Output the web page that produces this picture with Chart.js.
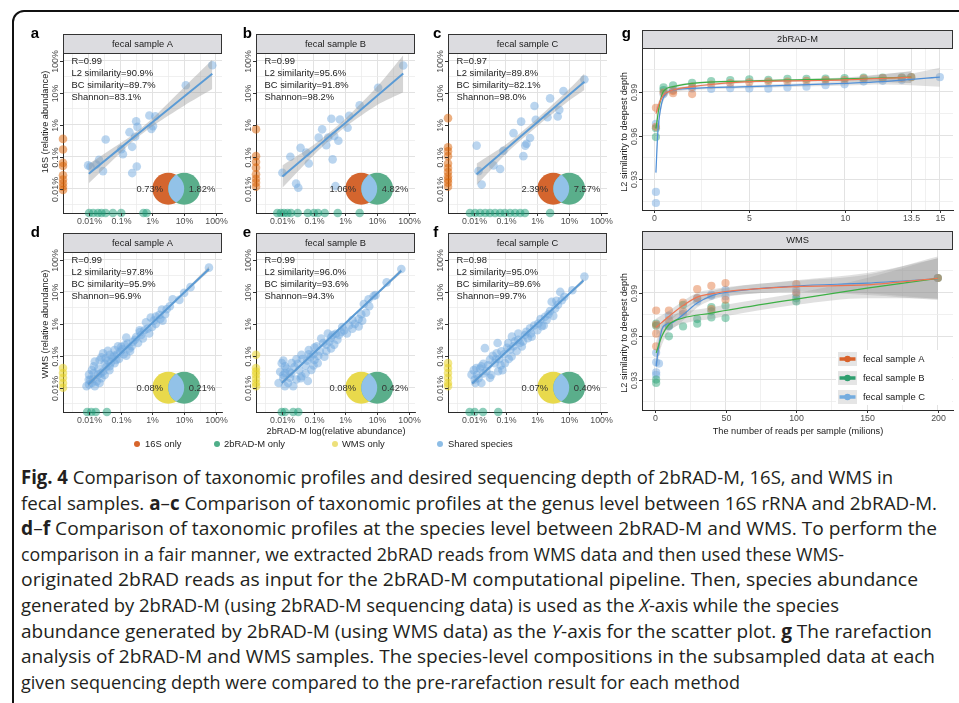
<!DOCTYPE html>
<html>
<head>
<meta charset="utf-8">
<title>Fig. 4</title>
<script src="https://cdn.jsdelivr.net/npm/chart.js@4.4.1/dist/chart.umd.min.js"></script>
<style>
  html, body { margin:0; padding:0; background:#fff; }
  body { width:959px; height:703px; position:relative; overflow:hidden; font-family:"Liberation Sans", Arial, sans-serif; }
  #frame { position:absolute; left:12px; top:10px; width:1010px; height:760px; border:2px solid #111; border-top-left-radius:12px; box-sizing:border-box; }
  canvas { position:absolute; }
  .legtxt { position:absolute; font-size:9.4px; color:#222; white-space:nowrap; line-height:12px; }
  .dot { position:absolute; width:6px; height:6px; border-radius:50%; }
  .cap { position:absolute; left:21px; font-family:"Open Sans","Lato",sans-serif; font-size:19px; color:#231f20; white-space:nowrap; transform-origin:0 0; line-height:22px; }
  .cap b { font-weight:700; }
</style>
</head>
<body>
<div id="frame"></div>

<script>
// ================= DATA =================
// Scatter panels: values are log10(relative abundance, %), i.e. -2 = 0.01%, 2 = 100%
const absTicks = [-2, -1, 0, 1, 2];
const absTickLabels = ['0.01%', '0.1%', '1%', '10%', '100%'];
const absGrid = [-2.5, -2, -1.5, -1, -0.5, 0, 0.5, 1, 1.5, 2];

// panel a (16S vs 2bRAD-M, fecal sample A, genus level)
const a_sharedX = [1.885,1.052,-0.094,0.094,-0.031,-0.51,-0.469,-0.719,-0.542,-1.469,-0.635,-0.979,-0.927,-1.677,-1.948,-1.76,-1.552,-0.49,-0.635,-2.02,0.02];
const a_sharedY = [1.865,1.24,0.292,0.271,-0.125,0.115,-0.063,-0.229,-0.375,-0.458,-0.688,-0.76,-0.917,-1.094,-1.302,-1.24,-1.448,-1.302,-1.51,-1.27,-0.04];
const a_onlyY = [-0.44,-0.77,-1.19,-1.29,-1.58,-1.71,-1.83,-1.94,-2.04];
const a_onlyX = [-1.99,-1.86,-1.71,-1.6,-1.47,-1.24,-0.98,-0.28,-0.18];
const a_fitX = [-2.0,-1.0,-0.5,0,1.0,1.885];
const a_fitY = [-1.53,-0.72,-0.32,0.08,0.89,1.6];
const a_fitLo = [-1.83,-0.87,-0.42,-0.04,0.6,1.12];
const a_fitHi = [-1.23,-0.57,-0.22,0.2,1.18,2.05];

// panel b
const b_sharedX = [1.82,1.03,0.45,0.12,-0.17,-0.44,-0.73,0.07,-0.84,-0.54,-0.35,-0.6,-0.22,-1.41,-1.23,-1.73,-1.15,-0.40,-1.98,-1.55,-1.48,-0.31];
const b_sharedY = [1.86,1.16,0.61,0.28,0.17,0.19,-0.14,-0.09,-0.40,-0.40,-0.35,-0.64,-0.5,-0.72,-0.87,-1.0,-1.21,-1.08,-1.5,-1.84,-1.97,-1.92];
const b_onlyY = [-0.14,-0.98,-1.16,-1.34,-1.55,-1.69,-1.81,-1.94];
const b_onlyX = [-2.14,-2.03,-1.93,-1.82,-1.71,-1.5,-1.18,-0.99,-0.86,-0.65,-0.24,0.45];
const b_fitX = [-1.98,-1.0,-0.5,0,1.0,1.82];
const b_fitY = [-1.62,-0.79,-0.36,0.06,0.91,1.61];
const b_fitLo = [-1.97,-0.95,-0.48,-0.07,0.62,1.02];
const b_fitHi = [-1.27,-0.63,-0.24,0.19,1.2,2.18];

// panel c
const c_sharedX = [1.48,0.82,0.40,0.69,0.64,0.32,-0.09,-0.05,-0.51,-0.75,-0.23,-0.34,-0.38,-1.07,-0.44,-1.91,-1.38,-1.17,-1.85,-1.75];
const c_sharedY = [1.42,1.06,0.83,0.47,0.26,0.24,0.59,0.16,0.10,-0.26,-0.41,-0.59,-0.65,-0.81,-0.98,-0.65,-1.27,-1.38,-1.45,-1.87];
const c_onlyY = [0.21,-0.70,-0.83,-0.98,-1.21,-1.35,-1.48,-1.61,-1.71,-1.81,-1.94];
const c_onlyX = [-2.12,-1.96,-1.8,-1.64,-1.49,-1.33,-1.17,-1.02,-0.86,-0.70,-0.54,-0.39,0.40];
const c_fitX = [-1.91,-1.0,-0.5,0,1.0,1.48];
const c_fitY = [-1.55,-0.77,-0.34,0.08,0.94,1.35];
const c_fitLo = [-1.89,-0.92,-0.46,-0.04,0.76,1.09];
const c_fitHi = [-1.21,-0.62,-0.22,0.2,1.12,1.61];

// panel d (2bRAD-M vs WMS, species level)
const d_sharedX = [1.78,1.0,0.64,0.45,0.11,-0.2,-0.15,-0.39,-0.51,-0.82,-0.61,-0.87,-1.08,-1.19,-1.4,-1.01,-1.55,-1.34,-1.81,-1.66,-1.47,-1.84,-1.99,-1.99,-1.81,-1.66,-1.86,-1.71,-1.55,-1.34,-1.14,-0.72,-0.3,-0.01,0.11,0.32,-0.82,-1.19,-2.07,-1.5,0.22,-0.05,-1.9,-1.6,-1.25,
  -1.95,-1.9,-1.75,-1.7,-1.62,-1.45,-1.4,-1.3,-1.2,-1.1,-1.05,-0.95,-0.9,-0.78,-0.7,-0.65,-0.55,-0.45,-0.35,-0.25,-0.1,0.05,0.25,0.4,0.55,0.85,1.2,-1.6,-1.35,-1.85,-2.0,-1.5,-0.98,-0.4,0.3];
const d_sharedY = [1.76,0.97,0.77,0.46,0.23,0.05,-0.15,-0.26,-0.41,-0.43,-0.56,-0.67,-0.7,-0.82,-0.84,-0.87,-0.92,-0.97,-1.18,-1.13,-1.08,-1.33,-1.59,-1.9,-1.95,-1.85,-1.72,-1.59,-1.49,-1.33,-1.13,-0.77,-0.46,-0.1,0.0,0.1,-1.0,-1.23,-1.95,-1.25,0.28,0.2,-1.45,-1.7,-1.05,
  -1.75,-1.85,-1.8,-1.4,-1.55,-1.35,-1.15,-1.2,-1.0,-0.95,-1.1,-0.8,-0.95,-0.62,-0.85,-0.7,-0.5,-0.6,-0.35,-0.2,-0.3,0.1,0.15,0.3,0.55,0.75,1.15,-1.05,-1.45,-1.55,-1.75,-1.6,-0.72,-0.2,0.45];
const d_onlyY = [-1.38,-1.54,-1.69,-1.85,-2.0];
const d_onlyX = [-2.05,-1.92,-1.78,-1.43];
const d_fitX = [-2.02,-1.0,0,1.0,1.78];
const d_fitY = [-1.9,-0.93,0.03,0.98,1.72];
const d_fitLo = [-1.97,-0.96,0.0,0.94,1.64];
const d_fitHi = [-1.83,-0.9,0.06,1.02,1.8];

// panel e
const e_sharedX = [1.76,0.89,0.73,0.58,0.53,0.22,-0.14,-0.3,-0.45,-0.76,-0.97,-1.15,-1.38,-1.54,-1.69,-1.9,-2.0,-1.9,-1.74,-1.54,-1.38,-1.18,-1.9,-1.64,-2.1,-1.07,-0.87,-0.66,-0.45,-0.97,-0.04,0.22,0.42,0.42,0.12,-0.25,-0.6,-0.8,-1.25,-1.45,-1.75,-1.95,0.65,-0.55,-1.1,
  -1.95,-1.85,-1.8,-1.7,-1.6,-1.5,-1.4,-1.35,-1.2,-1.15,-1.0,-0.9,-0.85,-0.7,-0.6,-0.5,-0.4,-0.35,-0.2,-0.1,0.05,0.3,0.5,0.75,0.95,1.3,-2.05,-1.95,-1.25,-1.0];
const e_sharedY = [1.72,0.87,0.77,0.62,0.10,0.12,-0.26,-0.31,-0.43,-0.46,-0.74,-0.82,-0.97,-1.11,-1.23,-1.33,-1.23,-1.54,-1.69,-1.74,-1.64,-1.79,-1.95,-1.95,-1.85,-1.44,-1.23,-1.03,-0.77,-1.13,-0.21,-0.15,-0.08,0.15,-0.05,-0.5,-0.65,-0.85,-1.3,-1.45,-1.5,-1.7,0.35,-0.3,-1.05,
  -1.6,-1.4,-1.85,-1.55,-1.35,-1.25,-1.7,-1.1,-1.15,-0.95,-0.95,-0.7,-1.0,-0.6,-0.85,-0.55,-0.35,-0.65,-0.35,-0.1,-0.3,0.0,0.3,0.55,0.9,1.3,-1.5,-1.15,-1.55,-1.3];
const e_onlyY = [-0.97,-1.38,-1.49,-1.59,-1.72,-1.85,-1.95];
const e_onlyX = [-2.0,-1.9,-1.64,-1.48];
const e_fitX = [-2.0,-1.0,0,1.0,1.76];
const e_fitY = [-1.85,-0.92,0.02,0.95,1.66];
const e_fitLo = [-1.91,-0.95,-0.01,0.91,1.59];
const e_fitHi = [-1.79,-0.89,0.05,0.99,1.73];

// panel f
const f_sharedX = [1.48,0.72,0.45,0.24,0.03,-0.23,-0.39,-0.6,-0.71,-0.92,-1.13,-1.28,-1.65,-1.49,-1.76,-1.92,-2.07,-1.97,-1.76,-1.49,-1.23,-1.02,-0.81,-0.49,-0.18,0.14,0.29,0.56,0.77,-1.34,-1.6,-1.1,0.6,0.0,-0.3,-0.55,-0.85,-1.9,-1.7,0.35,-1.2,
  -2.0,-1.95,-1.85,-1.8,-1.7,-1.55,-1.45,-1.4,-1.3,-1.15,-1.05,-0.95,-0.9,-0.75,-0.65,-0.6,-0.45,-0.35,-0.2,-0.1,0.1,0.2,0.4,0.5,0.65,0.85,1.1,-1.25,-0.8];
const f_sharedY = [1.48,1.0,0.69,0.22,0.01,-0.14,-0.35,-0.3,-0.55,-0.6,-0.86,-0.92,-0.76,-1.12,-1.33,-1.38,-1.59,-1.74,-1.85,-1.69,-1.48,-1.23,-1.02,-0.71,-0.40,-0.07,0.12,0.48,0.74,-1.23,-1.48,-1.45,0.72,-0.2,-0.45,-0.6,-0.8,-1.6,-1.55,0.3,-1.1,
  -1.45,-1.85,-1.7,-1.4,-1.25,-1.3,-1.6,-1.0,-1.1,-1.3,-0.95,-0.75,-1.1,-0.7,-0.85,-0.5,-0.55,-0.25,-0.3,-0.05,0.15,-0.05,0.4,0.25,0.6,0.85,1.05,-0.6,-0.4];
const f_onlyY = [-1.23,-1.38,-1.54,-1.69,-1.85,-1.95];
const f_onlyX = [-2.13,-1.97,-1.71,-1.23];
const f_fitX = [-2.05,-1.0,0,1.0,1.45];
const f_fitY = [-1.87,-0.9,0.02,0.94,1.36];
const f_fitLo = [-1.93,-0.93,-0.01,0.9,1.29];
const f_fitHi = [-1.81,-0.87,0.05,0.98,1.43];

// statistics printed in panels a-f
const statR = [0.99, 0.99, 0.97, 0.99, 0.99, 0.98];
const statL2 = [90.9, 95.6, 89.8, 97.8, 96.0, 95.0];
const statBC = [89.7, 91.8, 82.1, 95.9, 93.6, 89.6];
const statShannon = [83.1, 98.2, 98.0, 96.9, 94.3, 99.7];
const vennLeftPct = [0.73, 1.06, 2.39, 0.08, 0.08, 0.07];
const vennRightPct = [1.82, 4.82, 7.57, 0.21, 0.42, 0.40];
const vennCentersX = [0.5, 1.0];   // 3.16% and 10%
const vennCenterY = -2;            // 0.01%
const vennLabelX = [-0.08, 1.56];

// Panel g, rarefaction (2bRAD-M): depth in million reads, L2 similarity
const g1Ticks = [0, 5, 10, 13.5, 15];
const g1TickLabels = ['0', '5', '10', '13.5', '15'];
const g1Grid = [0, 2.5, 5, 7.5, 10, 11.75, 13.5, 14.25, 15];
const simTicks = [0.93, 0.96, 0.99];
const simTickLabels = ['0.93', '0.96', '0.99'];
const simGrid = [0.915, 0.93, 0.945, 0.96, 0.975, 0.99, 1.005];

const g1_A_x = [0.1,0.1,0.5,1,1,2,2,3,4,5,6,7,8,9,10,11,12,13,13.5];
const g1_A_y = [0.979,0.966,0.9895,0.989,0.9905,0.9884,0.9935,0.995,0.996,0.9965,0.997,0.997,0.9975,0.998,0.998,0.999,0.9993,0.9995,1.0];
const g1_B_x = [0.1,0.1,0.5,0.5,1,2,3,4,5,6,7,8,9,10,11,12,13,13.5];
const g1_B_y = [0.959,0.965,0.9912,0.993,0.9944,0.9962,0.9974,0.998,0.9986,0.9982,0.9988,0.9988,0.999,0.9993,0.9997,0.9998,0.9999,1.0];
const g1_C_x = [0.1,0.1,0.1,0.5,1,2,3,4,5,6,7,8,9,10,11,12,13,15];
const g1_C_y = [0.968,0.9214,0.9138,0.9884,0.9912,0.9923,0.9919,0.9925,0.9923,0.9921,0.993,0.9935,0.9945,0.9951,0.997,0.9975,0.998,1.0];

const g1_fitA_x = [0.1,0.3,0.5,1,2,3,5,8,10,13.5];
const g1_fitA_y = [0.975,0.983,0.9877,0.9912,0.9935,0.995,0.9969,0.9976,0.9981,1.0];
const g1_fitA_lo = [0.971,0.981,0.9865,0.9902,0.9927,0.9943,0.9962,0.9968,0.997,0.996];
const g1_fitA_hi = [0.979,0.985,0.9889,0.9922,0.9943,0.9957,0.9976,0.9984,0.9992,1.004];
const g1_fitB_x = [0.1,0.3,0.5,1,2,5,10,13.5];
const g1_fitB_y = [0.9647,0.982,0.9905,0.9935,0.9958,0.9974,0.9988,1.0];
const g1_fitB_lo = [0.9607,0.980,0.9895,0.9927,0.9951,0.9967,0.9978,0.996];
const g1_fitB_hi = [0.9687,0.984,0.9915,0.9943,0.9965,0.9981,0.9998,1.004];
const g1_fitC_x = [0.1,0.2,0.4,0.7,1,2,5,10,12,15];
const g1_fitC_y = [0.9346,0.962,0.982,0.9895,0.9912,0.9923,0.9935,0.9958,0.997,1.0];
const g1_fitC_lo = [0.9286,0.958,0.979,0.9875,0.9895,0.9913,0.9925,0.9943,0.9950,0.9935];
const g1_fitC_hi = [0.9406,0.966,0.985,0.9915,0.9929,0.9933,0.9945,0.9973,0.9990,1.0065];

// Panel g, rarefaction (WMS)
const g2Ticks = [0, 50, 100, 150, 200];
const g2TickLabels = ['0', '50', '100', '150', '200'];
const g2Grid = [0, 25, 50, 75, 100, 125, 150, 175, 200];

const g2_A_x = [1,1,1,1,10,10,20,20,30,30,40,40,50,50,100,100,200];
const g2_A_y = [0.9776,0.9678,0.9616,0.9529,0.9776,0.971,0.9831,0.977,0.9923,0.9861,0.9946,0.9786,0.9965,0.985,0.9958,0.99,1.0];
const g2_B_x = [1,1,1,1,10,10,20,20,30,30,40,40,40,50,50,100,100,200];
const g2_B_y = [0.9685,0.9671,0.930,0.9277,0.9598,0.967,0.9815,0.9666,0.9717,0.9685,0.98,0.977,0.9728,0.9809,0.9724,0.9838,0.986,1.0];
const g2_C_x = [1,1,1,1,3,10,10,20,30,30,40,40,50,50,100,100,200];
const g2_C_y = [0.9484,0.9419,0.935,0.9332,0.941,0.974,0.9666,0.9751,0.9838,0.9861,0.9877,0.9885,0.9919,0.9873,0.9919,0.9884,1.0];

const g2_fitA_x = [1,10,20,30,40,50,100,150,200];
const g2_fitA_y = [0.966,0.9735,0.981,0.9868,0.9891,0.9907,0.9941,0.9953,0.9998];
const g2_fitA_lo = [0.960,0.9695,0.978,0.9838,0.9861,0.9877,0.9901,0.9883,0.9848];
const g2_fitA_hi = [0.972,0.9775,0.984,0.9898,0.9921,0.9937,0.9981,1.0023,1.0148];
const g2_fitB_x = [1,5,10,20,40,50,100,150,200];
const g2_fitB_y = [0.9484,0.9598,0.9678,0.9724,0.9758,0.9776,0.9855,0.993,0.9998];
const g2_fitB_lo = [0.9404,0.9538,0.9628,0.9684,0.9718,0.9736,0.9815,0.986,0.9858];
const g2_fitB_hi = [0.9564,0.9658,0.9728,0.9764,0.9798,0.9816,0.9895,1.0,1.0138];
const g2_fitC_x = [1,3,5,8,12,20,30,40,50,100,150,200];
const g2_fitC_y = [0.9391,0.954,0.9644,0.968,0.969,0.9747,0.9827,0.9877,0.99,0.9945,0.9965,0.9995];
const g2_fitC_lo = [0.9321,0.948,0.9594,0.964,0.965,0.9707,0.9797,0.9847,0.987,0.9905,0.9895,0.9855];
const g2_fitC_hi = [0.9461,0.96,0.9694,0.972,0.973,0.9787,0.9857,0.9907,0.993,0.9985,1.0035,1.0135];

const sampleNames = ['fecal sample A', 'fecal sample B', 'fecal sample C'];

// ================= STYLE =================
const FONT = '"Liberation Sans", Arial, Helvetica, sans-serif';
const PT_R = 4.3;
const PT_BLUE = 'rgba(110,168,222,0.48)';
const PT_ORANGE = 'rgba(217,95,2,0.5)';
const PT_GREEN = 'rgba(27,158,119,0.5)';
const PT_YELLOW = 'rgba(232,212,40,0.55)';
const V_ORANGE = '#d4652e', V_GREEN = '#5aae8b', V_BLUE = '#92c2e8', V_YELLOW = '#e8d94c';
const BAND = 'rgba(150,150,150,0.4)';
const FIT_BLUE = '#5b9bd5';
const STRIP_FILL = '#dcdce0';
const GRID_MAJOR = '#e2e2e2', GRID_MINOR = '#ececec';
const SERIES_PT = ['rgba(225,110,50,0.45)', 'rgba(30,160,110,0.45)', 'rgba(120,172,225,0.5)'];
const SERIES_LINE = ['#ee7552', '#3cb045', '#4f8fd8'];
const SERIES_KEY = ['#d9622b', '#2e9e6e', '#74acdf'];

function pts(xs, ys) { return xs.map((x, i) => ({ x, y: ys[i] })); }

function makeCanvas(rect) {
  const c = document.createElement('canvas');
  c.width = rect[2] - rect[0]; c.height = rect[3] - rect[1];
  c.style.left = rect[0] + 'px'; c.style.top = rect[1] + 'px';
  c.style.width = c.width + 'px'; c.style.height = c.height + 'px';
  document.body.appendChild(c);
  return c;
}

function gridScale(range, grid, isMajor) {
  return {
    type: 'linear', min: range[0], max: range[1],
    afterBuildTicks: s => { s.ticks = grid.map(v => ({ value: v })); },
    ticks: { display: false },
    grid: { drawTicks: false,
      color: c => (c.tick && isMajor(c.tick.value)) ? GRID_MAJOR : GRID_MINOR,
      lineWidth: c => (c.tick && isMajor(c.tick.value)) ? 1 : 0.8 },
    border: { display: true, color: '#2b2b2b', width: 1 }
  };
}

function drawCommon(chart, p) {
  const ctx = chart.ctx, A = chart.chartArea, xs = chart.scales.x, ys = chart.scales.y;
  const oy = p.canvas[1], ox = p.canvas[0];
  ctx.save();
  const sTop = p.stripTop - oy;
  ctx.fillStyle = STRIP_FILL;
  ctx.fillRect(A.left, sTop, A.right - A.left, A.top - sTop);
  ctx.strokeStyle = '#333'; ctx.lineWidth = 1;
  ctx.strokeRect(Math.round(A.left) + 0.5, Math.round(sTop) + 0.5, Math.round(A.right - A.left) - 1, Math.round(A.top - sTop));
  ctx.fillStyle = '#1a1a1a'; ctx.font = '9.3px ' + FONT; ctx.textAlign = 'center'; ctx.textBaseline = 'middle';
  ctx.fillText(p.strip, (A.left + A.right) / 2, (sTop + A.top) / 2 + 0.5);
  ctx.strokeStyle = '#333'; ctx.fillStyle = '#4d4d4d'; ctx.font = '8.8px ' + FONT;
  p.xTicks.forEach((v, i) => {
    const px = Math.round(xs.getPixelForValue(v)) + 0.5;
    ctx.beginPath(); ctx.moveTo(px, A.bottom); ctx.lineTo(px, A.bottom + 3); ctx.stroke();
    ctx.fillText(p.xLabels[i], px, A.bottom + 9);
  });
  p.yTicks.forEach((v, i) => {
    const py = Math.round(ys.getPixelForValue(v)) + 0.5;
    ctx.beginPath(); ctx.moveTo(A.left - 3, py); ctx.lineTo(A.left, py); ctx.stroke();
    ctx.save(); ctx.translate(A.left - 5, py); ctx.rotate(-Math.PI / 2);
    ctx.textBaseline = 'alphabetic'; ctx.fillText(p.yLabels[i], 0, 0); ctx.restore();
  });
  ctx.fillStyle = '#1a1a1a'; ctx.font = '9.2px ' + FONT;
  if (p.yTitle) {
    ctx.save(); ctx.translate(p.yTitlePos[0] - ox, p.yTitlePos[1] - oy); ctx.rotate(-Math.PI / 2);
    ctx.textBaseline = 'middle'; ctx.fillText(p.yTitle, 0, 0); ctx.restore();
  }
  if (p.xTitle) {
    ctx.textBaseline = 'middle';
    ctx.fillText(p.xTitle, p.xTitlePos[0] - ox, p.xTitlePos[1] - oy);
  }
  if (p.letter) {
    ctx.fillStyle = '#000'; ctx.font = 'bold 15px ' + FONT; ctx.textAlign = 'left'; ctx.textBaseline = 'alphabetic';
    ctx.fillText(p.letter, p.letterPos[0] - ox, p.letterPos[1] - oy);
  }
  ctx.restore();
}

// ================= SCATTER PANELS a-f =================
const X_RANGE = [-2.81, 2.19];
const Y_RANGE = [-2.76, 2.25];
const isInt = v => Math.abs(v - Math.round(v)) < 1e-9;

const scatterPanels = [
  { letter:'a', strip: sampleNames[0], area:[63,53,222,213], stripTop:34, letterPos:[30.7,38.3], yTitle:'16S (relative abundance)', yTitlePos:[45,122],
    sx:a_sharedX, sy:a_sharedY, oy:a_onlyY, ox:a_onlyX, fx:a_fitX, fy:a_fitY, flo:a_fitLo, fhi:a_fitHi, yOnlyCol:PT_ORANGE, vLeft:V_ORANGE, idx:0 },
  { letter:'b', strip: sampleNames[1], area:[256,53,415,213], stripTop:34, letterPos:[242.7,38.3],
    sx:b_sharedX, sy:b_sharedY, oy:b_onlyY, ox:b_onlyX, fx:b_fitX, fy:b_fitY, flo:b_fitLo, fhi:b_fitHi, yOnlyCol:PT_ORANGE, vLeft:V_ORANGE, idx:1 },
  { letter:'c', strip: sampleNames[2], area:[448,53,607,213], stripTop:34, letterPos:[433,38.3],
    sx:c_sharedX, sy:c_sharedY, oy:c_onlyY, ox:c_onlyX, fx:c_fitX, fy:c_fitY, flo:c_fitLo, fhi:c_fitHi, yOnlyCol:PT_ORANGE, vLeft:V_ORANGE, idx:2 },
  { letter:'d', strip: sampleNames[0], area:[63,252,222,412], stripTop:233, letterPos:[30.7,236.7], yTitle:'WMS (relative abundance)', yTitlePos:[45,324],
    sx:d_sharedX, sy:d_sharedY, oy:d_onlyY, ox:d_onlyX, fx:d_fitX, fy:d_fitY, flo:d_fitLo, fhi:d_fitHi, yOnlyCol:PT_YELLOW, vLeft:V_YELLOW, idx:3 },
  { letter:'e', strip: sampleNames[1], area:[256,252,415,412], stripTop:233, letterPos:[242.7,236.7], xTitle:'2bRAD-M log(relative abundance)', xTitlePos:[336,431],
    sx:e_sharedX, sy:e_sharedY, oy:e_onlyY, ox:e_onlyX, fx:e_fitX, fy:e_fitY, flo:e_fitLo, fhi:e_fitHi, yOnlyCol:PT_YELLOW, vLeft:V_YELLOW, idx:4 },
  { letter:'f', strip: sampleNames[2], area:[448,252,607,412], stripTop:233, letterPos:[433.3,236.7],
    sx:f_sharedX, sy:f_sharedY, oy:f_onlyY, ox:f_onlyX, fx:f_fitX, fy:f_fitY, flo:f_fitLo, fhi:f_fitHi, yOnlyCol:PT_YELLOW, vLeft:V_YELLOW, idx:5 }
];

scatterPanels.forEach(p => {
  p.canvas = [p.area[0] - 42, p.stripTop - 18, p.area[2] + 10, p.area[3] + 30];
  p.xTicks = absTicks; p.xLabels = absTickLabels; p.yTicks = absTicks; p.yLabels = absTickLabels;
  const cv = makeCanvas(p.canvas);
  const pad = { left: p.area[0] - p.canvas[0], top: p.area[1] - p.canvas[1], right: p.canvas[2] - p.area[2], bottom: p.canvas[3] - p.area[3] };
  const i = p.idx;
  const stats = ['R=' + statR[i].toFixed(2), 'L2 similarity=' + statL2[i].toFixed(1) + '%', 'BC similarity=' + statBC[i].toFixed(1) + '%', 'Shannon=' + statShannon[i].toFixed(1) + '%'];
  const ptStyle = { showLine: false, pointRadius: PT_R, pointBorderWidth: 0, pointBorderColor: 'rgba(0,0,0,0)', clip: false };
  new Chart(cv, {
    type: 'line',
    data: { datasets: [
      { data: pts(p.fx, p.fy), borderColor: FIT_BLUE, borderWidth: 2, pointRadius: 0, fill: false, order: 0, tension: 0 },
      { data: pts(p.fx, p.fhi), borderWidth: 0, borderColor: 'rgba(0,0,0,0)', backgroundColor: BAND, pointRadius: 0, fill: '+1', order: 1, tension: 0.3 },
      { data: pts(p.fx, p.flo), borderWidth: 0, borderColor: 'rgba(0,0,0,0)', pointRadius: 0, fill: false, order: 2, tension: 0.3 },
      Object.assign({ data: pts(p.sx, p.sy), pointBackgroundColor: PT_BLUE, order: 3 }, ptStyle),
      Object.assign({ data: p.oy.map(y => ({ x: X_RANGE[0], y })), pointBackgroundColor: p.yOnlyCol, order: 4 }, ptStyle),
      Object.assign({ data: p.ox.map(x => ({ x, y: Y_RANGE[0] })), pointBackgroundColor: PT_GREEN, order: 5 }, ptStyle)
    ]},
    options: {
      responsive: false, animation: false, devicePixelRatio: 1,
      layout: { padding: pad },
      plugins: { legend: { display: false }, tooltip: { enabled: false } },
      scales: { x: gridScale(X_RANGE, absGrid, isInt), y: gridScale(Y_RANGE, absGrid, isInt) }
    },
    plugins: [{
      id: 'deco',
      afterDraw(chart) {
        drawCommon(chart, p);
        const ctx = chart.ctx, A = chart.chartArea, xs = chart.scales.x, ys = chart.scales.y;
        ctx.save();
        ctx.fillStyle = '#1a1a1a'; ctx.font = '9.4px ' + FONT; ctx.textAlign = 'left'; ctx.textBaseline = 'middle';
        stats.forEach((s, k) => ctx.fillText(s, A.left + 8.5, A.top + 8.8 + k * 11.85));
        const c1 = xs.getPixelForValue(vennCentersX[0]), c2 = xs.getPixelForValue(vennCentersX[1]), cy = ys.getPixelForValue(vennCenterY);
        const r = c2 - c1;
        ctx.fillStyle = p.vLeft; ctx.beginPath(); ctx.arc(c1, cy, r, 0, Math.PI * 2); ctx.fill();
        ctx.fillStyle = V_GREEN; ctx.beginPath(); ctx.arc(c2, cy, r, 0, Math.PI * 2); ctx.fill();
        ctx.save(); ctx.beginPath(); ctx.arc(c1, cy, r, 0, Math.PI * 2); ctx.clip();
        ctx.fillStyle = V_BLUE; ctx.beginPath(); ctx.arc(c2, cy, r, 0, Math.PI * 2); ctx.fill(); ctx.restore();
        ctx.fillStyle = '#333'; ctx.font = '9.4px ' + FONT; ctx.textAlign = 'center';
        ctx.fillText(vennLeftPct[i].toFixed(2) + '%', xs.getPixelForValue(vennLabelX[0]), cy + 1);
        ctx.fillText(vennRightPct[i].toFixed(2) + '%', xs.getPixelForValue(vennLabelX[1]), cy + 1);
        ctx.restore();
      }
    }]
  });
});

// ================= RAREFACTION PANELS g =================
const SIM_RANGE = [0.909, 1.0200];
function rarePanel(p) {
  const cv = makeCanvas(p.canvas);
  const pad = { left: p.area[0] - p.canvas[0], top: p.area[1] - p.canvas[1], right: p.canvas[2] - p.area[2], bottom: p.canvas[3] - p.area[3] };
  const ds = [];
  p.fits.forEach((f, k) => ds.push({ data: pts(f.x, f.y), borderColor: SERIES_LINE[k], borderWidth: 1.2, pointRadius: 0, fill: false, order: k, cubicInterpolationMode: 'monotone' }));
  p.fits.forEach((f, k) => {
    ds.push({ data: pts(f.x, f.hi), borderWidth: 0, borderColor: 'rgba(0,0,0,0)', backgroundColor: 'rgba(153,153,153,0.3)', pointRadius: 0, fill: '+1', order: 10 + k * 2, cubicInterpolationMode: 'monotone' });
    ds.push({ data: pts(f.x, f.lo), borderWidth: 0, borderColor: 'rgba(0,0,0,0)', pointRadius: 0, fill: false, order: 11 + k * 2, cubicInterpolationMode: 'monotone' });
  });
  p.points.forEach((s, k) => ds.push({ data: pts(s.x, s.y), showLine: false, pointRadius: 4.1, pointBackgroundColor: SERIES_PT[k], pointBorderWidth: 0, pointBorderColor: 'rgba(0,0,0,0)', order: 20 + k, clip: false }));
  new Chart(cv, {
    type: 'line',
    data: { datasets: ds },
    options: {
      responsive: false, animation: false, devicePixelRatio: 1,
      layout: { padding: pad },
      plugins: { legend: { display: false }, tooltip: { enabled: false } },
      scales: {
        x: gridScale(p.xRange, p.xGrid, v => p.xTicks.includes(v)),
        y: gridScale(SIM_RANGE, simGrid, v => simTicks.some(t => Math.abs(t - v) < 1e-9))
      }
    },
    plugins: [{
      id: 'deco',
      afterDraw(chart) {
        drawCommon(chart, p);
        if (p.legend) {
          const ctx = chart.ctx, ox = p.canvas[0], oy = p.canvas[1];
          ctx.save();
          ctx.fillStyle = '#fff'; ctx.fillRect(836 - ox, 350 - oy, 116, 55);
          sampleNames.forEach((n, k) => {
            const y = [359, 378, 397][k] - oy;
            ctx.fillStyle = 'rgba(153,153,153,0.25)'; ctx.fillRect(838 - ox, y - 7, 19, 14);
            ctx.strokeStyle = SERIES_KEY[k]; ctx.lineWidth = 3.5;
            ctx.beginPath(); ctx.moveTo(839.5 - ox, y); ctx.lineTo(855.5 - ox, y); ctx.stroke();
            ctx.fillStyle = SERIES_KEY[k]; ctx.beginPath(); ctx.arc(847.5 - ox, y, 3.2, 0, Math.PI * 2); ctx.fill();
            ctx.fillStyle = '#1a1a1a'; ctx.font = '9.4px ' + FONT; ctx.textAlign = 'left'; ctx.textBaseline = 'middle';
            ctx.fillText(n, 863 - ox, y + 0.5);
          });
          ctx.restore();
        }
      }
    }]
  });
}

rarePanel({
  letter: 'g', letterPos: [621.7, 38], strip: '2bRAD-M', area: [642, 48, 953, 210], stripTop: 30, canvas: [600, 14, 959, 232],
  xRange: [-0.63, 15.69], xGrid: g1Grid, xTicks: g1Ticks, xLabels: g1TickLabels, yTicks: simTicks, yLabels: simTickLabels,
  yTitle: 'L2 similarity to deepest depth', yTitlePos: [624, 132],
  points: [{ x: g1_A_x, y: g1_A_y }, { x: g1_B_x, y: g1_B_y }, { x: g1_C_x, y: g1_C_y }],
  fits: [{ x: g1_fitA_x, y: g1_fitA_y, lo: g1_fitA_lo, hi: g1_fitA_hi }, { x: g1_fitB_x, y: g1_fitB_y, lo: g1_fitB_lo, hi: g1_fitB_hi }, { x: g1_fitC_x, y: g1_fitC_y, lo: g1_fitC_lo, hi: g1_fitC_hi }]
});
rarePanel({
  strip: 'WMS', area: [642, 249, 953, 410], stripTop: 231, canvas: [600, 215, 959, 445],
  xRange: [-9, 210.7], xGrid: g2Grid, xTicks: g2Ticks, xLabels: g2TickLabels, yTicks: simTicks, yLabels: simTickLabels,
  yTitle: 'L2 similarity to deepest depth', yTitlePos: [624, 333],
  xTitle: 'The number of reads per sample (milions)', xTitlePos: [798, 431],
  legend: true,
  points: [{ x: g2_A_x, y: g2_A_y }, { x: g2_B_x, y: g2_B_y }, { x: g2_C_x, y: g2_C_y }],
  fits: [{ x: g2_fitA_x, y: g2_fitA_y, lo: g2_fitA_lo, hi: g2_fitA_hi }, { x: g2_fitB_x, y: g2_fitB_y, lo: g2_fitB_lo, hi: g2_fitB_hi }, { x: g2_fitC_x, y: g2_fitC_y, lo: g2_fitC_lo, hi: g2_fitC_hi }]
});
</script>

<!-- shared legend for a-f -->
<div class="dot" style="left:134px;top:441px;background:#d7652b"></div><div class="legtxt" style="left:145px;top:438px">16S only</div>
<div class="dot" style="left:214px;top:441px;background:#4fae88"></div><div class="legtxt" style="left:224px;top:438px">2bRAD-M only</div>
<div class="dot" style="left:332px;top:441px;background:#ede07a"></div><div class="legtxt" style="left:342px;top:438px">WMS only</div>
<div class="dot" style="left:437px;top:441px;background:#8dbde6"></div><div class="legtxt" style="left:448px;top:438px">Shared species</div>

<!-- caption -->
<div class="cap" style="top:466px"><b>Fig. 4</b> Comparison of taxonomic profiles and desired sequencing depth of 2bRAD-M, 16S, and WMS in</div>
<div class="cap" style="top:492px">fecal samples. <b>a</b>–<b>c</b> Comparison of taxonomic profiles at the genus level between 16S rRNA and 2bRAD-M.</div>
<div class="cap" style="top:517px"><b>d</b>–<b>f</b> Comparison of taxonomic profiles at the species level between 2bRAD-M and WMS. To perform the</div>
<div class="cap" style="top:543px">comparison in a fair manner, we extracted 2bRAD reads from WMS data and then used these WMS-</div>
<div class="cap" style="top:568px">originated 2bRAD reads as input for the 2bRAD-M computational pipeline. Then, species abundance</div>
<div class="cap" style="top:594px">generated by 2bRAD-M (using 2bRAD-M sequencing data) is used as the <i>X</i>-axis while the species</div>
<div class="cap" style="top:620px">abundance generated by 2bRAD-M (using WMS data) as the <i>Y</i>-axis for the scatter plot. <b>g</b> The rarefaction</div>
<div class="cap" style="top:645px">analysis of 2bRAD-M and WMS samples. The species-level compositions in the subsampled data at each</div>
<div class="cap" style="top:671px">given sequencing depth were compared to the pre-rarefaction result for each method</div>

<script>
const capRightEdges = [893, 937, 937, 844, 918, 839, 932, 935, 740];
function fitCaption() {
  document.querySelectorAll('.cap').forEach((el, i) => {
    el.style.transform = 'none';
    const w = el.getBoundingClientRect().width;
    if (w > 0) el.style.transform = 'scaleX(' + ((capRightEdges[i] - 21) / w) + ')';
  });
}
fitCaption();
if (document.fonts && document.fonts.ready) document.fonts.ready.then(fitCaption);
</script>
</body>
</html>
